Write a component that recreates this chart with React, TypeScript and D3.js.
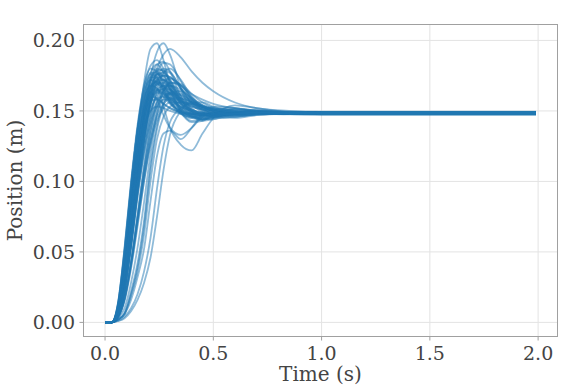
import * as d3 from "d3"

// sample times (s) shared by every run
const TIME = [0, 0.03, 0.06, 0.09, 0.12, 0.15, 0.18, 0.21, 0.24, 0.27, 0.3, 0.35, 0.4, 0.45, 0.5, 0.6, 0.7, 0.85, 1.0, 1.99]

// position (m) of each run at TIME
const run01 = [0, 0, 0.011, 0.045, 0.09, 0.134, 0.17, 0.194, 0.198, 0.186, 0.168, 0.15, 0.143, 0.144, 0.148, 0.151, 0.15, 0.1484, 0.1476, 0.1476]
const run02 = [0, 0, 0.007, 0.031, 0.068, 0.108, 0.145, 0.174, 0.192, 0.198, 0.19, 0.166, 0.15, 0.144, 0.145, 0.149, 0.15, 0.1492, 0.149, 0.149]
const run03 = [0, 0, 0.005, 0.024, 0.056, 0.094, 0.13, 0.16, 0.18, 0.19, 0.194, 0.188, 0.178, 0.17, 0.164, 0.156, 0.152, 0.15, 0.1494, 0.1494]
const run04 = [0, 0, 0.014, 0.053, 0.1, 0.14, 0.168, 0.182, 0.186, 0.18, 0.17, 0.155, 0.146, 0.144, 0.146, 0.149, 0.1495, 0.1485, 0.148, 0.148]
const run05 = [0, 0, 0.013, 0.05, 0.096, 0.138, 0.167, 0.18, 0.178, 0.168, 0.158, 0.148, 0.145, 0.146, 0.148, 0.1492, 0.1488, 0.1484, 0.1482, 0.1482]
const run06 = [0, 0, 0.009, 0.038, 0.08, 0.122, 0.154, 0.172, 0.18, 0.178, 0.171, 0.158, 0.15, 0.147, 0.147, 0.1485, 0.149, 0.1488, 0.1486, 0.1486]
const run07 = [0, 0, 0.005, 0.024, 0.056, 0.094, 0.128, 0.155, 0.171, 0.178, 0.177, 0.166, 0.156, 0.151, 0.148, 0.147, 0.148, 0.1476, 0.1474, 0.1474]
const run08 = [0, 0, 0.007, 0.031, 0.068, 0.108, 0.142, 0.165, 0.176, 0.175, 0.168, 0.156, 0.149, 0.146, 0.146, 0.148, 0.149, 0.1491, 0.1492, 0.1492]
const run09 = [0, 0, 0.011, 0.045, 0.09, 0.132, 0.16, 0.174, 0.173, 0.165, 0.157, 0.15, 0.147, 0.147, 0.148, 0.1488, 0.1487, 0.1484, 0.1483, 0.1483]
const run10 = [0, 0, 0.004, 0.017, 0.042, 0.074, 0.108, 0.137, 0.158, 0.17, 0.173, 0.168, 0.159, 0.153, 0.15, 0.147, 0.1475, 0.1479, 0.1478, 0.1478]
const run11 = [0, 0, 0.009, 0.038, 0.08, 0.121, 0.151, 0.166, 0.171, 0.168, 0.162, 0.153, 0.148, 0.147, 0.1475, 0.1485, 0.1488, 0.1489, 0.1488, 0.1488]
const run12 = [0, 0, 0.004, 0.017, 0.042, 0.073, 0.105, 0.132, 0.152, 0.164, 0.17, 0.169, 0.162, 0.156, 0.152, 0.149, 0.148, 0.1486, 0.1485, 0.1485]
const run13 = [0, 0, 0.014, 0.052, 0.098, 0.136, 0.159, 0.168, 0.166, 0.16, 0.155, 0.15, 0.148, 0.148, 0.148, 0.1485, 0.1484, 0.1481, 0.1479, 0.1479]
const run14 = [0, 0, 0.005, 0.024, 0.055, 0.092, 0.124, 0.148, 0.161, 0.166, 0.165, 0.159, 0.154, 0.151, 0.149, 0.148, 0.1482, 0.1487, 0.1489, 0.1489]
const run15 = [0, 0, 0.007, 0.03, 0.066, 0.104, 0.136, 0.155, 0.164, 0.163, 0.159, 0.153, 0.15, 0.148, 0.148, 0.1484, 0.1486, 0.1484, 0.1484, 0.1484]
const run16 = [0, 0, 0.002, 0.006, 0.02, 0.039, 0.068, 0.108, 0.137, 0.154, 0.162, 0.161, 0.156, 0.152, 0.15, 0.148, 0.1482, 0.1478, 0.1477, 0.1477]
const run17 = [0, 0, 0.011, 0.044, 0.088, 0.128, 0.151, 0.16, 0.159, 0.155, 0.152, 0.149, 0.148, 0.148, 0.1482, 0.1486, 0.1487, 0.1489, 0.1491, 0.1491]
const run18 = [0, 0, 0.005, 0.023, 0.054, 0.09, 0.12, 0.141, 0.153, 0.158, 0.158, 0.155, 0.151, 0.149, 0.1485, 0.148, 0.1484, 0.1483, 0.1481, 0.1481]
const run19 = [0, 0, 0.004, 0.016, 0.04, 0.07, 0.1, 0.126, 0.143, 0.152, 0.156, 0.156, 0.153, 0.151, 0.149, 0.1482, 0.1482, 0.1486, 0.1487, 0.1487]
const run20 = [0, 0, 0.009, 0.037, 0.078, 0.115, 0.139, 0.15, 0.153, 0.152, 0.15, 0.148, 0.1475, 0.1478, 0.148, 0.1483, 0.1482, 0.1477, 0.1475, 0.1475]
const run21 = [0, 0, 0.008, 0.034, 0.074, 0.114, 0.146, 0.163, 0.166, 0.153, 0.138, 0.126, 0.122, 0.134, 0.145, 0.154, 0.152, 0.1494, 0.1493, 0.1493]
const run22 = [0, 0, 0.002, 0.006, 0.016, 0.032, 0.052, 0.086, 0.118, 0.134, 0.136, 0.13, 0.138, 0.148, 0.153, 0.152, 0.1495, 0.1485, 0.1483, 0.1483]
const run23 = [0, 0, 0.001, 0.003, 0.008, 0.016, 0.028, 0.046, 0.075, 0.108, 0.133, 0.15, 0.156, 0.156, 0.153, 0.15, 0.149, 0.1489, 0.1488, 0.1488]
const run24 = [0, 0, 0.001, 0.004, 0.01, 0.02, 0.036, 0.06, 0.095, 0.125, 0.142, 0.152, 0.155, 0.153, 0.151, 0.149, 0.1485, 0.148, 0.1479, 0.1479]
const run25 = [0, 0, 0.002, 0.007, 0.022, 0.042, 0.072, 0.112, 0.14, 0.156, 0.163, 0.164, 0.159, 0.154, 0.151, 0.148, 0.1478, 0.1484, 0.1486, 0.1486]
const run26 = [0, 0, 0.012, 0.049, 0.095, 0.137, 0.164, 0.176, 0.174, 0.165, 0.156, 0.148, 0.146, 0.147, 0.1485, 0.149, 0.1487, 0.1482, 0.148, 0.148]
const run27 = [0, 0, 0.009, 0.038, 0.081, 0.124, 0.158, 0.177, 0.183, 0.177, 0.165, 0.149, 0.142, 0.143, 0.147, 0.151, 0.1505, 0.1492, 0.149, 0.149]
const run28 = [0, 0, 0.006, 0.029, 0.064, 0.102, 0.134, 0.155, 0.165, 0.168, 0.165, 0.157, 0.151, 0.148, 0.147, 0.148, 0.1486, 0.1484, 0.1482, 0.1482]
const run29 = [0, 0, 0.005, 0.025, 0.058, 0.097, 0.131, 0.155, 0.168, 0.172, 0.169, 0.158, 0.15, 0.147, 0.147, 0.1485, 0.149, 0.1488, 0.1487, 0.1487]
const run30 = [0, 0, 0.004, 0.018, 0.044, 0.077, 0.112, 0.143, 0.165, 0.177, 0.18, 0.172, 0.16, 0.152, 0.148, 0.146, 0.1475, 0.1477, 0.1476, 0.1476]
const run31 = [0, 0, 0.01, 0.042, 0.085, 0.124, 0.147, 0.157, 0.158, 0.155, 0.152, 0.149, 0.148, 0.1478, 0.148, 0.1485, 0.1486, 0.1485, 0.1484, 0.1484]
const run32 = [0, 0, 0.002, 0.006, 0.019, 0.036, 0.062, 0.1, 0.13, 0.146, 0.153, 0.156, 0.155, 0.152, 0.15, 0.1485, 0.1484, 0.149, 0.1492, 0.1492]
const run33 = [0, 0, 0.007, 0.031, 0.069, 0.11, 0.146, 0.171, 0.183, 0.185, 0.178, 0.16, 0.148, 0.144, 0.145, 0.149, 0.1502, 0.1483, 0.1478, 0.1478]
const run34 = [0, 0, 0.01, 0.042, 0.086, 0.128, 0.153, 0.163, 0.158, 0.147, 0.138, 0.133, 0.138, 0.146, 0.151, 0.152, 0.15, 0.1487, 0.1486, 0.1486]
const run35 = [0, 0, 0.008, 0.036, 0.077, 0.118, 0.149, 0.167, 0.174, 0.172, 0.166, 0.155, 0.149, 0.147, 0.1475, 0.1486, 0.1488, 0.1485, 0.1481, 0.1481]
const run36 = [0, 0, 0.003, 0.015, 0.038, 0.068, 0.1, 0.128, 0.148, 0.159, 0.163, 0.162, 0.157, 0.153, 0.15, 0.148, 0.1482, 0.1488, 0.149, 0.149]
const run37 = [0, 0, 0.009, 0.039, 0.082, 0.124, 0.156, 0.173, 0.178, 0.174, 0.166, 0.155, 0.15, 0.148, 0.1475, 0.1478, 0.1482, 0.1484, 0.1483, 0.1483]
const run38 = [0, 0, 0.007, 0.032, 0.07, 0.11, 0.143, 0.163, 0.172, 0.172, 0.168, 0.161, 0.156, 0.153, 0.151, 0.1495, 0.149, 0.1487, 0.1486, 0.1486]
const run39 = [0, 0, 0.006, 0.03, 0.067, 0.107, 0.142, 0.165, 0.176, 0.177, 0.172, 0.16, 0.152, 0.147, 0.146, 0.147, 0.148, 0.1485, 0.1487, 0.1487]
const run40 = [0, 0, 0.005, 0.025, 0.058, 0.096, 0.13, 0.155, 0.17, 0.175, 0.174, 0.166, 0.158, 0.153, 0.15, 0.148, 0.1478, 0.148, 0.1481, 0.1481]
const run41 = [0, 0, 0.008, 0.036, 0.077, 0.117, 0.147, 0.163, 0.169, 0.167, 0.163, 0.157, 0.153, 0.151, 0.15, 0.149, 0.1488, 0.1489, 0.149, 0.149]
const run42 = [0, 0, 0.012, 0.047, 0.093, 0.135, 0.164, 0.177, 0.177, 0.17, 0.161, 0.151, 0.146, 0.145, 0.146, 0.1482, 0.1488, 0.1486, 0.1485, 0.1485]
const run43 = [0, 0, 0.007, 0.031, 0.067, 0.106, 0.138, 0.157, 0.165, 0.165, 0.162, 0.157, 0.154, 0.152, 0.151, 0.1495, 0.1488, 0.1484, 0.1482, 0.1482]
const run44 = [0, 0, 0.005, 0.023, 0.054, 0.091, 0.124, 0.149, 0.163, 0.168, 0.168, 0.163, 0.157, 0.153, 0.151, 0.149, 0.1485, 0.1483, 0.1483, 0.1483]
const run45 = [0, 0, 0.009, 0.038, 0.08, 0.122, 0.154, 0.171, 0.176, 0.172, 0.164, 0.152, 0.146, 0.145, 0.146, 0.1485, 0.149, 0.149, 0.1489, 0.1489]
const run46 = [0, 0, 0.006, 0.029, 0.064, 0.102, 0.133, 0.151, 0.159, 0.16, 0.159, 0.157, 0.155, 0.153, 0.152, 0.1505, 0.1495, 0.149, 0.1488, 0.1488]
const run47 = [0, 0, 0.004, 0.018, 0.043, 0.075, 0.108, 0.136, 0.155, 0.165, 0.168, 0.165, 0.158, 0.153, 0.15, 0.1478, 0.1478, 0.1482, 0.1484, 0.1484]
const run48 = [0, 0, 0.005, 0.024, 0.057, 0.096, 0.131, 0.158, 0.174, 0.18, 0.178, 0.166, 0.155, 0.149, 0.146, 0.146, 0.1475, 0.1484, 0.1486, 0.1486]
const run49 = [0, 0, 0.008, 0.035, 0.075, 0.114, 0.144, 0.16, 0.165, 0.162, 0.156, 0.149, 0.145, 0.144, 0.1445, 0.146, 0.1475, 0.148, 0.148, 0.148]
const run50 = [0, 0, 0.007, 0.03, 0.066, 0.105, 0.138, 0.159, 0.169, 0.17, 0.166, 0.158, 0.151, 0.148, 0.147, 0.1475, 0.148, 0.1486, 0.1488, 0.1488]
const run51 = [0, 0, 0.013, 0.051, 0.097, 0.137, 0.162, 0.172, 0.17, 0.163, 0.156, 0.149, 0.146, 0.146, 0.147, 0.1485, 0.1487, 0.1486, 0.1484, 0.1484]
const run52 = [0, 0, 0.004, 0.017, 0.041, 0.072, 0.103, 0.129, 0.146, 0.155, 0.159, 0.159, 0.156, 0.154, 0.152, 0.1502, 0.1492, 0.1488, 0.1487, 0.1487]
const run53 = [0, 0, 0.007, 0.031, 0.068, 0.109, 0.144, 0.168, 0.179, 0.179, 0.172, 0.157, 0.147, 0.143, 0.144, 0.148, 0.1498, 0.149, 0.1485, 0.1485]
const run54 = [0, 0, 0.009, 0.037, 0.079, 0.12, 0.151, 0.167, 0.171, 0.167, 0.16, 0.152, 0.148, 0.147, 0.1472, 0.148, 0.1486, 0.1484, 0.1482, 0.1482]
const run55 = [0, 0, 0.005, 0.023, 0.053, 0.089, 0.121, 0.144, 0.156, 0.161, 0.162, 0.159, 0.156, 0.153, 0.151, 0.1495, 0.149, 0.1488, 0.1489, 0.1489]
const run56 = [0, 0, 0.003, 0.01, 0.028, 0.053, 0.085, 0.12, 0.148, 0.164, 0.17, 0.168, 0.16, 0.154, 0.15, 0.147, 0.1475, 0.1483, 0.1485, 0.1485]
const run57 = [0, 0, 0.006, 0.028, 0.063, 0.101, 0.135, 0.16, 0.172, 0.175, 0.174, 0.168, 0.162, 0.158, 0.155, 0.152, 0.1505, 0.1493, 0.149, 0.149]
const run58 = [0, 0, 0.008, 0.034, 0.074, 0.112, 0.141, 0.157, 0.163, 0.162, 0.158, 0.153, 0.15, 0.149, 0.1485, 0.1485, 0.1486, 0.1485, 0.1484, 0.1484]
const run59 = [0, 0, 0.011, 0.045, 0.089, 0.129, 0.156, 0.168, 0.17, 0.165, 0.158, 0.151, 0.147, 0.146, 0.1465, 0.148, 0.1487, 0.1488, 0.1487, 0.1487]
const run60 = [0, 0, 0.005, 0.024, 0.056, 0.095, 0.131, 0.16, 0.177, 0.184, 0.183, 0.171, 0.158, 0.15, 0.146, 0.145, 0.147, 0.1485, 0.1488, 0.1488]

const RUNS = [
  run01, run02, run03, run04, run05, run06, run07, run08, run09, run10, run11, run12,
  run13, run14, run15, run16, run17, run18, run19, run20, run21, run22, run23, run24,
  run25, run26, run27, run28, run29, run30, run31, run32, run33, run34, run35, run36,
  run37, run38, run39, run40, run41, run42, run43, run44, run45, run46, run47, run48,
  run49, run50, run51, run52, run53, run54, run55, run56, run57, run58, run59, run60,
]

const X_TICKS = [0, 0.5, 1.0, 1.5, 2.0]
const Y_TICKS = [0, 0.05, 0.1, 0.15, 0.2]

const W = 573
const H = 389
const LEFT = 83.5
const RIGHT = 557.5
const TOP = 24.5
const BOTTOM = 336.5

const FONT = "'DejaVu Serif', serif"
const SPINE = "#a0a0a0"
const GRID = "#e3e3e3"
const INK = "#444"

export default function App() {
  const x = d3.scaleLinear().domain([-0.0995, 2.0895]).range([LEFT, RIGHT])
  const y = d3.scaleLinear().domain([-0.01, 0.2113]).range([BOTTOM, TOP])

  const line = d3
    .line<number>()
    .x((_, i) => x(TIME[i]))
    .y((d) => y(d))
    .curve(d3.curveMonotoneX)

  return (
    <svg width={W} height={H} style={{ position: "absolute", left: 0, top: 0, background: "#fff" }}>
      <defs>
        <clipPath id="plot">
          <rect x={LEFT} y={TOP} width={RIGHT - LEFT} height={BOTTOM - TOP} />
        </clipPath>
      </defs>

      {/* grid */}
      {X_TICKS.map((t) => (
        <line key={"gx" + t} x1={x(t)} x2={x(t)} y1={TOP} y2={BOTTOM} stroke={GRID} strokeWidth={1} />
      ))}
      {Y_TICKS.map((t) => (
        <line key={"gy" + t} x1={LEFT} x2={RIGHT} y1={y(t)} y2={y(t)} stroke={GRID} strokeWidth={1} />
      ))}

      {/* runs */}
      <g clipPath="url(#plot)">
        {RUNS.map((r, i) => (
          <path key={i} d={line(r) ?? ""} fill="none" stroke="#1f77b4" strokeOpacity={0.5} strokeWidth={1.8} />
        ))}
      </g>

      {/* frame */}
      <rect x={LEFT} y={TOP} width={RIGHT - LEFT} height={BOTTOM - TOP} fill="none" stroke={SPINE} strokeWidth={1} />

      {/* x ticks */}
      {X_TICKS.map((t) => (
        <g key={"xt" + t}>
          <line x1={x(t)} x2={x(t)} y1={BOTTOM} y2={BOTTOM + 4} stroke={SPINE} />
          <text x={x(t)} y={360} textAnchor="middle" fontFamily={FONT} fontSize={19} fill={INK}>
            {t.toFixed(1)}
          </text>
        </g>
      ))}
      {/* y ticks */}
      {Y_TICKS.map((t) => (
        <g key={"yt" + t}>
          <line x1={LEFT - 4} x2={LEFT} y1={y(t)} y2={y(t)} stroke={SPINE} />
          <text x={75} y={y(t)} dy="0.36em" textAnchor="end" fontFamily={FONT} fontSize={19} fill={INK}>
            {t.toFixed(2)}
          </text>
        </g>
      ))}

      <text x={(LEFT + RIGHT) / 2} y={381} textAnchor="middle" fontFamily={FONT} fontSize={20} fill={INK}>
        Time (s)
      </text>
      <text
        transform={`translate(22,${(TOP + BOTTOM) / 2}) rotate(-90)`}
        textAnchor="middle"
        fontFamily={FONT}
        fontSize={20}
        fill={INK}
      >
        Position (m)
      </text>
    </svg>
  )
}
